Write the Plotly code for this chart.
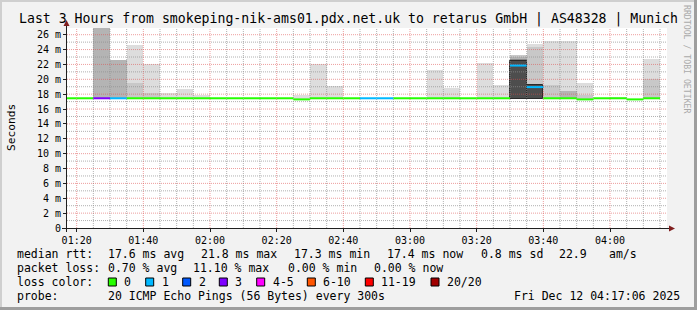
import plotly.graph_objects as go
from datetime import datetime, timedelta

# ---------------- data ----------------
DAY = "2025-12-12"
step_start = ["01:15", "01:20", "01:25", "01:30", "01:35", "01:40", "01:45", "01:50", "01:55",
              "02:00", "02:05", "02:10", "02:15", "02:20", "02:25", "02:30", "02:35", "02:40",
              "02:45", "02:50", "02:55", "03:00", "03:05", "03:10", "03:15", "03:20", "03:25",
              "03:30", "03:35", "03:40", "03:45", "03:50", "03:55", "04:00", "04:05", "04:10"]
N = None
median_ms = [17.45, 17.45, 17.45, 17.45, 17.45, 17.45, 17.45, 17.45, 17.45, 17.45, 17.45, 17.45,
             17.45, 17.45, 17.3, 17.45, 17.45, 17.45, 17.45, 17.45, 17.45, 17.45, 17.45, 17.45,
             17.45, 17.45, 17.45, 21.85, 18.95, 17.45, 17.45, 17.3, 17.45, 17.45, 17.3, 17.45]
loss_cnt = [0, 0, 3, 1, 0, 0, 0, 0, 0, 0, 0, 0, 0, 0, 0, 0, 0, 0, 1, 1, 0, 0, 0, 0, 0, 0, 0,
            1, 1, 0, 0, 0, 0, 0, 0, 0]
smoke_lo = 17.3
smoke_a = [N, N, N, N, 24.57, 22.05, 18.2, 18.63, 17.87, N, N, N, N, N, 17.85, 22.05, 19.08, N,
           N, N, N, N, 21.2, 18.86, N, 22.23, 19.3, N, 24.7, 25.2, 25.2, 19.44, N, 17.6, N, 22.7]
smoke_b = [N, N, N, N, 19.44, 18.2, N, N, N, N, N, N, N, N, N, N, N, N,
           N, N, N, N, N, N, N, N, N, 23.3, 24.35, 19.2, N, 17.87, N, N, N, 20.07]
smoke_c = [N, N, 26.9, 22.6, N, N, N, N, N, N, N, N, N, N, N, N, N, N,
           N, N, N, N, N, N, N, N, N, 23.0, N, N, 18.4, N, N, N, N, N]
smoke_d = [N, N, N, N, N, N, N, N, N, N, N, N, N, N, N, N, N, N,
           N, N, N, N, N, N, N, N, N, 22.7, N, N, N, N, N, N, N, N]
smoke_e = [N, N, N, N, N, N, N, N, N, N, N, N, N, N, N, N, N, N,
           N, N, N, N, N, N, N, N, N, 22.4, 19.3, N, N, N, N, N, N, N]

loss_legend = ["0", "1", "2", "3", "4-5", "6-10", "11-19", "20/20"]
loss_colors = ["#26ff00", "#00b8ff", "#0059ff", "#7e00ff", "#ff00ff", "#ff5500", "#ff0000", "#a10000"]
y_tick_vals = [0, 2, 4, 6, 8, 10, 12, 14, 16, 18, 20, 22, 24, 26]
y_tick_text = ["0", "2 m", "4 m", "6 m", "8 m", "10 m", "12 m", "14 m", "16 m", "18 m",
               "20 m", "22 m", "24 m", "26 m"]
x_start = DAY + " 01:17:06"
x_end = DAY + " 04:17:06"
y_max = 26.9

title = "Last 3 Hours from smokeping-nik-ams01.pdx.net.uk to retarus GmbH | AS48328 | Munich"
stats_rtt = ["median rtt:", "17.6 ms avg", "21.8 ms max", "17.3 ms min", "17.4 ms now",
             "0.8 ms sd", "22.9", "am/s"]
stats_loss = ["packet loss:", "0.70 % avg", "11.10 % max", "0.00 % min", "0.00 % now"]
probe_text = ["probe:", "20 ICMP Echo Pings (56 Bytes) every 300s", "Fri Dec 12 04:17:06 2025"]

# ---------------- helpers ----------------
STEP = timedelta(minutes=5)
starts = [datetime.fromisoformat(DAY + " " + s) for s in step_start]
centers = [s + STEP / 2 for s in starts]
MONO = "DejaVu Sans Mono"


def loss_color(n):
    if n <= 3:
        return loss_colors[n]
    if n <= 5:
        return loss_colors[4]
    if n <= 10:
        return loss_colors[5]
    if n <= 19:
        return loss_colors[6]
    return loss_colors[7]


L, R, T, B = 67, 667, 28, 228


def pxx(px):
    return (px - L) / (R - L)


def pxy(py):
    return (B - py) / (B - T)


fig = go.Figure()

# smoke layers
layers = [(smoke_a, "#dddddd", 0, None), (smoke_b, "#c8c8c8", 0, None),
          (smoke_c, "#b4b4b4", 0, None), (smoke_d, "#8a8a8a", 0, None),
          (smoke_e, "#4d4d4d", 1, "#2a2a2a")]
for vals, col, lw, lc in layers:
    fig.add_trace(go.Bar(
        x=centers, y=[(v - smoke_lo) if v is not None else None for v in vals],
        base=[smoke_lo] * len(vals), width=[STEP.total_seconds() * 1000] * len(vals),
        marker=dict(color=col, line=dict(width=lw, color=lc or col)),
        showlegend=False, hoverinfo="skip"))

# grid (drawn above the smoke, below the median)
t0 = datetime.fromisoformat(x_start)
t1 = datetime.fromisoformat(x_end)
gx_minor, gy_minor, gx_major, gy_major = [], [], [], []
t = datetime.fromisoformat(DAY + " 01:20")
while t < t1:
    if t.minute % 20 == 0:
        gx_major += [t, t, None]; gy_major += [0, y_max, None]
    else:
        gx_minor += [t, t, None]; gy_minor += [0, y_max, None]
    t += STEP
hx_minor, hy_minor, hx_major, hy_major = [], [], [], []
for v in range(1, 27):
    if v % 2 == 0:
        hx_major += [t0, t1, None]; hy_major += [v, v, None]
    else:
        hx_minor += [t0, t1, None]; hy_minor += [v, v, None]
for xs, ys, col in [(gx_minor + hx_minor, gy_minor + hy_minor, "rgba(143,143,143,0.7)"),
                    (gx_major + hx_major, gy_major + hy_major, "rgba(222,79,79,0.55)")]:
    fig.add_trace(go.Scatter(x=xs, y=ys, mode="lines",
                             line=dict(color=col, width=1, dash="1px,1px"),
                             showlegend=False, hoverinfo="skip"))

# median line, coloured by loss
groups = {}
for s, m, n in zip(starts, median_ms, loss_cnt):
    c = loss_color(n)
    gx, gy = groups.setdefault(c, ([], []))
    gx += [s, s + STEP, None]
    gy += [m, m, None]
for c, (gx, gy) in groups.items():
    fig.add_trace(go.Scatter(x=gx, y=gy, mode="lines", line=dict(color=c, width=2),
                             showlegend=False, hoverinfo="skip"))

# ---------------- layout ----------------
shapes = []
# frame
shapes.append(dict(type="rect", xref="paper", yref="paper", x0=pxx(0), x1=pxx(697), y0=pxy(0), y1=pxy(2),
                   fillcolor="#cfcfcf", line=dict(width=0), layer="below"))
shapes.append(dict(type="rect", xref="paper", yref="paper", x0=pxx(0), x1=pxx(2), y0=pxy(0), y1=pxy(310),
                   fillcolor="#cfcfcf", line=dict(width=0), layer="below"))
shapes.append(dict(type="rect", xref="paper", yref="paper", x0=pxx(0), x1=pxx(697), y0=pxy(307), y1=pxy(310),
                   fillcolor="#9e9e9e", line=dict(width=0), layer="below"))
shapes.append(dict(type="rect", xref="paper", yref="paper", x0=pxx(694), x1=pxx(697), y0=pxy(0), y1=pxy(310),
                   fillcolor="#9e9e9e", line=dict(width=0), layer="below"))
# axes
shapes.append(dict(type="line", xref="paper", yref="paper", x0=pxx(62), x1=pxx(670), y0=pxy(228.5), y1=pxy(228.5),
                   line=dict(color="#1f1f1f", width=1), layer="above"))
shapes.append(dict(type="line", xref="paper", yref="paper", x0=pxx(66.5), x1=pxx(66.5), y0=pxy(232), y1=pxy(25),
                   line=dict(color="#1f1f1f", width=1), layer="above"))
shapes.append(dict(type="path", xref="paper", yref="paper",
                   path=f"M {pxx(669)} {pxy(225.5)} L {pxx(669)} {pxy(231.5)} L {pxx(675)} {pxy(228.5)} Z",
                   fillcolor="#801f1f", line=dict(width=0), layer="above"))
shapes.append(dict(type="path", xref="paper", yref="paper",
                   path=f"M {pxx(63.5)} {pxy(26)} L {pxx(69.5)} {pxy(26)} L {pxx(66.5)} {pxy(20)} Z",
                   fillcolor="#801f1f", line=dict(width=0), layer="above"))

ann = []


def text(px, py, s, size=11.5, color="#000000", anchor="left", angle=0):
    ann.append(dict(xref="paper", yref="paper", x=pxx(px), y=pxy(py), text=s, showarrow=False,
                    xanchor=anchor, yanchor="middle", textangle=angle,
                    font=dict(family=MONO, size=size, color=color), borderpad=0))


text(348, 19, title, size=13.2, anchor="center")
text(11, 128, "Seconds", size=11.2, anchor="center", angle=-90)
text(687, 59, "RRDTOOL / TOBI OETIKER", size=8.2, color="#aaaaaa", anchor="center", angle=90)

for s, px in zip(stats_rtt, [16, 107.3, 200, 293.3, 386, 480, 558.3, 607.7]):
    text(px, 254.3, s)
for s, px in zip(stats_loss, [16, 107.3, 191.7, 286.7, 372.7]):
    text(px, 268.3, s)
text(16, 282.3, "loss color:")
box_x = [108.3, 145.7, 182.7, 219.3, 256.7, 307.3, 365.3, 431]
for lbl, col, bx in zip(loss_legend, loss_colors, box_x):
    shapes.append(dict(type="rect", xref="paper", yref="paper", x0=pxx(bx), x1=pxx(bx + 8),
                       y0=pxy(278), y1=pxy(286), fillcolor=col, line=dict(color="#000000", width=1)))
    text(bx + 15, 282.3, lbl)
for s, px in zip(probe_text, [16, 107.3, 513.3]):
    text(px, 296, s)

fig.update_layout(
    width=697, height=310,
    margin=dict(l=L, r=697 - R, t=T, b=310 - B, pad=0),
    paper_bgcolor="#f2f2f2", plot_bgcolor="#ffffff",
    barmode="overlay", bargap=0, showlegend=False,
    shapes=shapes, annotations=ann,
    xaxis=dict(type="date", range=[x_start, x_end], showgrid=False, zeroline=False, showline=False,
               tick0=DAY + " 01:20", dtick=20 * 60 * 1000, tickformat="%H:%M",
               ticks="outside", ticklen=3, tickcolor="#1f1f1f",
               tickfont=dict(family=MONO, size=10, color="#000000"), fixedrange=True),
    yaxis=dict(range=[0, y_max], showgrid=False, zeroline=False, showline=False,
               tickmode="array", tickvals=y_tick_vals, ticktext=y_tick_text,
               ticks="outside", ticklen=3, tickcolor="#1f1f1f",
               tickfont=dict(family=MONO, size=10, color="#000000"), fixedrange=True),
)

fig.write_html("out.html")
